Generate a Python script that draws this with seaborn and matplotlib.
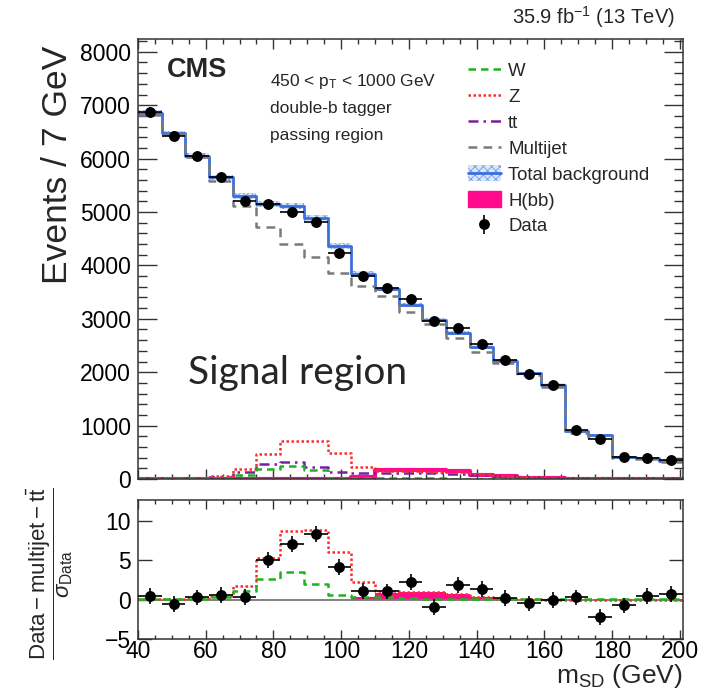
import numpy as np
import pandas as pd
import matplotlib
matplotlib.use("Agg")
import matplotlib.pyplot as plt
import seaborn as sns
from matplotlib.lines import Line2D
from matplotlib.patches import Patch
from matplotlib.ticker import MultipleLocator, NullLocator

# ---------------- data ----------------
bin_edges = [40, 47, 54, 61, 68, 75, 82, 89, 96, 103, 110, 117, 124, 131, 138,
             145, 152, 159, 166, 173, 180, 187, 194, 201]

data_counts = [6878, 6429, 6054, 5661, 5206, 5150, 5000, 4818, 4238, 3801, 3582, 3371,
               2959, 2822, 2528, 2234, 1961, 1760, 918, 755, 406, 388, 350]
total_bkg = [6854, 6474, 6049, 5650, 5305, 5150, 5112, 4888, 4369, 3839, 3558, 3260,
             2977, 2740, 2466, 2215, 1979, 1760, 899, 824, 418, 388, 337]
total_unc = [50, 50, 50, 50, 55, 55, 60, 60, 55, 50, 45, 45, 40, 40, 35, 35, 30, 30,
             20, 20, 15, 15, 15]
multijet = [6816, 6455, 6024, 5586, 5112, 4713, 4400, 4163, 3863, 3620, 3427, 3133,
            2903, 2635, 2384, 2167, 1940, 1730, 860, 790, 395, 370, 320]
w_jets = [12, 12, 12, 15, 81, 190, 250, 160, 25, 15, 12, 10, 10, 8, 8, 6, 6, 5, 5, 4, 4, 3, 3]
z_jets = [25, 25, 28, 60, 185, 470, 705, 705, 485, 230, 145, 145, 140, 130, 90, 55, 30,
          22, 18, 15, 12, 10, 10]
ttbar = [18, 18, 20, 44, 140, 280, 325, 220, 125, 120, 120, 115, 110, 100, 75, 55, 30,
         25, 20, 15, 12, 10, 10]
hbb = [0, 0, 0, 0, 0, 0, 0, 0, 0, 40, 160, 168, 168, 150, 80, 55, 25, 10, 5, 0, 0, 0, 0]

# ratio panel: (Data - multijet - tt) / sigma_Data
ratio_data = [0.51, -0.55, 0.30, 0.60, 0.38, 5.06, 7.06, 8.38, 4.21, 1.10, 1.06, 2.26,
              -0.90, 1.87, 1.36, 0.21, -0.47, -0.04, 0.30, -2.20, -0.73, 0.46, 0.77]
ratio_z = [0.1, 0.1, 0.2, 0.5, 1.79, 5.32, 8.81, 8.89, 6.04, 2.21, 1.15, 1.0, 1.0, 0.7,
           0.3, 0.1, 0.05, 0.02, 0.02, 0.02, 0.02, 0.02, 0.02]
ratio_w = [0.05, 0.05, 0.1, 0.3, 1.15, 2.64, 3.49, 2.0, 0.6, 0.4, 0.3, 0.2, 0.1, 0.05,
           0.05, 0.05, 0.05, 0.05, 0.05, 0.05, 0.05, 0.05, 0.05]
ratio_h = [0, 0, 0, 0, 0, 0, 0, 0, 0, 0.3, 0.85, 1.0, 1.0, 0.7, 0.3, 0.1, 0, 0, 0, 0, 0, 0, 0]

# ---------------- style ----------------
sns.set_style("ticks")
plt.rcParams["font.family"] = ["Liberation Sans", "DejaVu Sans"]
plt.rcParams["mathtext.fontset"] = "custom"
plt.rcParams["mathtext.rm"] = "Liberation Sans"
plt.rcParams["mathtext.it"] = "Liberation Sans:italic"
plt.rcParams["mathtext.bf"] = "Liberation Sans:bold"
plt.rcParams["hatch.linewidth"] = 0.6

GREEN = "#1fb21f"
RED = "#ff2a2a"
PURPLE = "#7b1fa2"
GRAY = "#7a7a7a"
BLUE = "#3a6fdc"
HATCH = "#6f9ae8"
PINK = "#ff0a8c"
AXC = "#333333"

edges = np.array(bin_edges, dtype=float)
centers = (edges[:-1] + edges[1:]) / 2
half_w = (edges[1:] - edges[:-1]) / 2

df = pd.DataFrame({
    "msd": centers, "data": data_counts, "total": total_bkg, "unc": total_unc,
    "multijet": multijet, "W": w_jets, "Z": z_jets, "tt": ttbar, "hbb": hbb,
    "r_data": ratio_data, "r_z": ratio_z, "r_w": ratio_w, "r_h": ratio_h,
})

fig = plt.figure(figsize=(7.18, 6.90), dpi=100)
ax = fig.add_axes([0.1922, 0.3058, 0.7591, 0.6377])
rax = fig.add_axes([0.1922, 0.0739, 0.7591, 0.2015])


def step(axis, col, **kw):
    sns.histplot(data=df, x="msd", weights=col, bins=bin_edges, element="step",
                 fill=False, ax=axis, **kw)


# ---------------- main panel ----------------
step(ax, "hbb", color=PINK, linewidth=3.0)
lo = df["total"] - df["unc"]
hi = df["total"] + df["unc"]
ax.fill_between(edges, np.append(lo, lo.iloc[-1]), np.append(hi, hi.iloc[-1]),
                step="post", facecolor="#dbe6fb", edgecolor=HATCH, hatch="xxxx",
                linewidth=0, zorder=2)
step(ax, "total", color=BLUE, linewidth=2.0)
step(ax, "multijet", color=GRAY, linewidth=1.8, linestyle=(0, (3.5, 2.5)))
step(ax, "tt", color=PURPLE, linewidth=1.8, linestyle=(0, (4, 2, 1, 2)))
step(ax, "Z", color=RED, linewidth=1.8, linestyle=(0, (1, 1)))
step(ax, "W", color=GREEN, linewidth=1.8, linestyle=(0, (3, 2)))
ax.errorbar(df["msd"], df["data"], xerr=half_w, yerr=np.sqrt(df["data"]), fmt="o",
            color="black", ms=6.8, elinewidth=1.2, capsize=0, zorder=10)

ax.set_xlim(40, 201)
ax.set_ylim(0, 8240)
ax.xaxis.set_major_locator(MultipleLocator(20))
ax.xaxis.set_minor_locator(MultipleLocator(5))
ax.yaxis.set_major_locator(MultipleLocator(1000))
ax.yaxis.set_minor_locator(MultipleLocator(200))
ax.tick_params(which="both", direction="in", top=True, right=True, colors=AXC,
               labelcolor="black", width=1.0)
ax.tick_params(axis="y", which="major", length=13.5, labelsize=16.5, pad=5)
ax.tick_params(axis="y", which="minor", length=6.3)
ax.tick_params(axis="x", which="major", length=7.2, labelbottom=False)
ax.tick_params(axis="x", which="minor", length=3.6)
for s in ax.spines.values():
    s.set_color(AXC)
    s.set_linewidth(1.1)
ax.set_xlabel("")
ax.set_ylabel("Events / 7 GeV", fontsize=25.5, loc="top")
ax.yaxis.set_label_coords(-0.118, 0.985)

# texts
ax.text(0.053, 0.914, "CMS", transform=ax.transAxes, fontsize=19.5, fontweight="bold")
ax.text(0.242, 0.893, r"450 < p$_{\mathrm{T}}$ < 1000 GeV", transform=ax.transAxes,
        fontsize=12.5)
ax.text(0.242, 0.832, "double-b tagger", transform=ax.transAxes, fontsize=12.5)
ax.text(0.242, 0.770, "passing region", transform=ax.transAxes, fontsize=12.5)
ax.text(1.0 - 0.015, 1.02, r"35.9 fb$^{-1}$ (13 TeV)", transform=ax.transAxes,
        fontsize=14.5, ha="right", va="bottom")
ax.text(0.092, 0.216, "Signal region", transform=ax.transAxes, fontsize=28,
        family=["Lato", "DejaVu Sans"])

# legend
h_data = ax.errorbar([np.nan], [np.nan], yerr=[1], fmt="o", color="black", ms=6.8,
                     elinewidth=1.2, capsize=0)
handles = [
    Line2D([], [], color=GREEN, lw=1.8, ls=(0, (3, 2))),
    Line2D([], [], color=RED, lw=1.8, ls=(0, (1, 1))),
    Line2D([], [], color=PURPLE, lw=1.8, ls=(0, (4, 2, 1, 2))),
    Line2D([], [], color=GRAY, lw=1.8, ls=(0, (3.5, 2.5))),
    (Patch(facecolor="#dbe6fb", edgecolor=HATCH, hatch="xxxx", lw=0),
     Line2D([], [], color=BLUE, lw=2.0)),
    Patch(facecolor=PINK, edgecolor=PINK),
    h_data,
]
labels = ["W", "Z", "tt", "Multijet", "Total background", "H(bb)", "Data"]
ax.legend(handles, labels, loc="upper left", bbox_to_anchor=(0.6055, 0.948),
          frameon=False, fontsize=13.4, handlelength=1.75, handleheight=0.95,
          handletextpad=0.4, labelspacing=0.4, borderpad=0, borderaxespad=0)

# ---------------- ratio panel ----------------
sns.histplot(data=df, x="msd", weights="r_h", bins=bin_edges, element="step",
             fill=True, color=PINK, alpha=1.0, linewidth=0, ax=rax)
rax.axhline(0, color="#777777", lw=1.3, zorder=1)
step(rax, "r_z", color=RED, linewidth=1.8, linestyle=(0, (1, 1)))
step(rax, "r_w", color=GREEN, linewidth=1.8, linestyle=(0, (3, 2)))
rax.errorbar(df["msd"], df["r_data"], xerr=half_w, yerr=1.0, fmt="o", color="black",
             ms=6.8, elinewidth=1.2, capsize=0, zorder=10)

rax.set_xlim(40, 201)
rax.set_ylim(-5, 12.7)
rax.xaxis.set_major_locator(MultipleLocator(20))
rax.xaxis.set_minor_locator(MultipleLocator(5))
rax.yaxis.set_major_locator(MultipleLocator(5))
rax.yaxis.set_minor_locator(NullLocator())
rax.tick_params(which="both", direction="in", top=True, right=True, colors=AXC,
                labelcolor="black", width=1.0)
rax.tick_params(axis="y", which="major", length=10, labelsize=16.5, pad=5)
rax.tick_params(axis="x", which="major", length=6.5, labelsize=16.5, pad=1)
rax.tick_params(axis="x", which="minor", length=3.2)
for s in rax.spines.values():
    s.set_color(AXC)
    s.set_linewidth(1.1)
rax.set_xlabel(r"m$_{\mathrm{SD}}$ (GeV)", fontsize=19, loc="right")
rax.xaxis.set_label_coords(1.0, -0.167)
rax.set_ylabel(r"$\dfrac{\mathrm{Data - multijet - t\bar{t}}}{\sigma_{\mathrm{Data}}}$",
               fontsize=16)
rax.yaxis.set_label_coords(-0.115, 0.47)

fig.savefig("out.png", dpi=100)
